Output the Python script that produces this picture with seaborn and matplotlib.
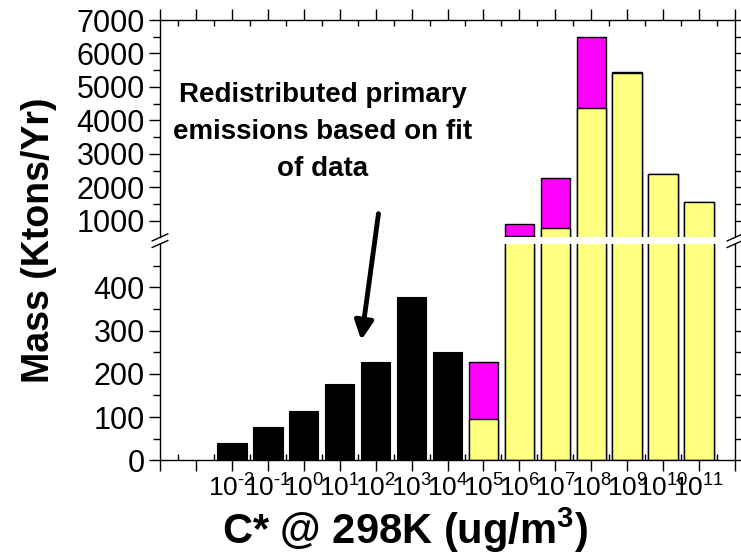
import numpy as np
import pandas as pd
import matplotlib
matplotlib.use("Agg")
import matplotlib.pyplot as plt
import seaborn as sns
from matplotlib.lines import Line2D
from matplotlib.ticker import FixedLocator, NullFormatter

# log10 of saturation concentration C* (ug/m3) for each volatility bin
primary_bins = [-2, -1, 0, 1, 2, 3, 4]
primary_mass = [40, 76, 114, 177, 227, 378, 250]          # redistributed primary emissions

volatile_bins = [5, 6, 7, 8, 9, 10, 11]
volatile_base = [95, 530, 770, 4370, 5420, 2390, 1560]    # yellow part
volatile_added = [132, 370, 1500, 2130, 40, 0, 0]         # magenta part stacked on top

tick_exponents = list(range(-2, 12))
# short hyphen instead of the wide math minus in the exponents
tick_labels = ["$10^{" + str(e).replace("-", "\u2010") + "}$" for e in tick_exponents]

upper_yticks = [1000, 2000, 3000, 4000, 5000, 6000, 7000]
lower_yticks = [0, 100, 200, 300, 400]

sns.set_theme(style="ticks")
plt.rcParams["font.family"] = ["Liberation Sans", "DejaVu Sans"]
plt.rcParams["mathtext.fontset"] = "custom"
plt.rcParams["mathtext.rm"] = "Liberation Sans"
plt.rcParams["mathtext.it"] = "Liberation Sans:italic"
plt.rcParams["mathtext.bf"] = "Liberation Sans:bold"
for key in ("text.color", "axes.labelcolor", "xtick.color", "ytick.color",
            "axes.edgecolor"):
    plt.rcParams[key] = "black"

W, H = 741, 559
fig = plt.figure(figsize=(W / 100, H / 100), dpi=100)


def box(x0, y0, x1, y1):
    """Axes rectangle from pixel edges measured from the top-left corner."""
    return [x0 / W, 1 - y1 / H, (x1 - x0) / W, (y1 - y0) / H]


ax_hi = fig.add_axes(box(160, 20, 735, 237.4))
ax_lo = fig.add_axes(box(160, 244, 735, 460.3))

df_primary = pd.DataFrame({"logC": primary_bins, "mass": primary_mass})
df_vol = pd.DataFrame({
    "logC": volatile_bins,
    "base": volatile_base,
    "total": np.add(volatile_base, volatile_added),
})

bar_kw = dict(native_scale=True, width=0.82, saturation=1, errorbar=None)
for ax in (ax_hi, ax_lo):
    sns.barplot(data=df_primary, x="logC", y="mass", color="black",
                edgecolor="black", linewidth=0.8, ax=ax, **bar_kw)
    sns.barplot(data=df_vol, x="logC", y="total", color="#ff00ff",
                edgecolor="black", linewidth=1.0, ax=ax, **bar_kw)
    sns.barplot(data=df_vol, x="logC", y="base", color="#ffff80",
                edgecolor="black", linewidth=1.0, ax=ax, **bar_kw)
    ax.set_xlim(-4, 12)
    ax.set_xlabel("")
    ax.set_ylabel("")
    for s in ax.spines.values():
        s.set_linewidth(1.0)
        s.set_color("black")
    ax.spines["right"].set_visible(True)
    ax.spines["top"].set_visible(True)
    ax.xaxis.set_major_locator(FixedLocator(list(range(-4, 13))))
    ax.xaxis.set_minor_locator(FixedLocator([v + 0.5 for v in range(-4, 12)]))
    ax.tick_params(axis="y", which="major", direction="out", length=8, width=1.0,
                   left=True, right=True, labelsize=22, pad=3, colors="black")
    ax.tick_params(axis="y", which="minor", direction="out", length=5, width=1.0,
                   left=True, right=True, colors="black")

# upper panel: 500 - 7000
ax_hi.set_ylim(500, 7000)
ax_hi.spines["bottom"].set_visible(False)
ax_hi.yaxis.set_major_locator(FixedLocator(upper_yticks))
ax_hi.yaxis.set_minor_locator(FixedLocator([1500, 2500, 3500, 4500, 5500, 6500]))
ax_hi.tick_params(axis="x", which="both", bottom=False, labelbottom=False,
                  top=True, labeltop=False, colors="black")
ax_hi.tick_params(axis="x", which="major", direction="out", length=8, width=1.0)
ax_hi.tick_params(axis="x", which="minor", direction="in", length=4, width=1.0)

# lower panel: 0 - 500
ax_lo.set_ylim(0, 500)
ax_lo.spines["top"].set_visible(False)
ax_lo.yaxis.set_major_locator(FixedLocator(lower_yticks))
ax_lo.yaxis.set_minor_locator(FixedLocator([50, 150, 250, 350, 450]))
ax_lo.tick_params(axis="x", which="both", top=False, bottom=True, colors="black")
ax_lo.tick_params(axis="x", which="major", direction="out", length=8, width=1.0,
                  labelsize=19, pad=2)
ax_lo.tick_params(axis="x", which="minor", direction="in", length=4, width=1.0)
ax_lo.set_xticks(list(range(-4, 13)))
ax_lo.set_xticklabels(["", ""] + tick_labels + [""])
ax_lo.xaxis.set_minor_formatter(NullFormatter())

# axis break marks on both vertical spines
for xs in (160, 735):
    for yc in (237.4, 244):
        x0, x1 = xs - 8, xs + 8
        y0, y1 = yc + 3.6, yc - 3.6
        fig.add_artist(Line2D([x0 / W, x1 / W], [1 - y0 / H, 1 - y1 / H],
                              transform=fig.transFigure, color="black", lw=1.0))

# axis titles
fig.text(39 / W, 1 - 240 / H, "Mass (Ktons/Yr)", rotation=90, ha="center",
         va="center", fontsize=27, fontweight="bold", color="black")
fig.text(405 / W, 1 - 530 / H, "C* @ 298K (ug/m$^\\mathbf{3}$)", ha="center",
         va="center", fontsize=30, fontweight="bold", color="black")

# note with arrow pointing into the low-volatility bins
fig.text(323 / W, 1 - 132 / H,
         "Redistributed primary\nemissions based on fit\nof data",
         ha="center", va="center", fontsize=20, fontweight="bold",
         color="black", linespacing=1.55)
ax_lo.annotate("", xy=(1.6, 278), xycoords="data",
               xytext=(2.08, 1210), textcoords=ax_hi.transData,
               arrowprops=dict(arrowstyle="-|>", lw=3.5, color="black",
                               mutation_scale=28, shrinkA=0, shrinkB=0),
               annotation_clip=False)

fig.savefig("out.png", dpi=100)
